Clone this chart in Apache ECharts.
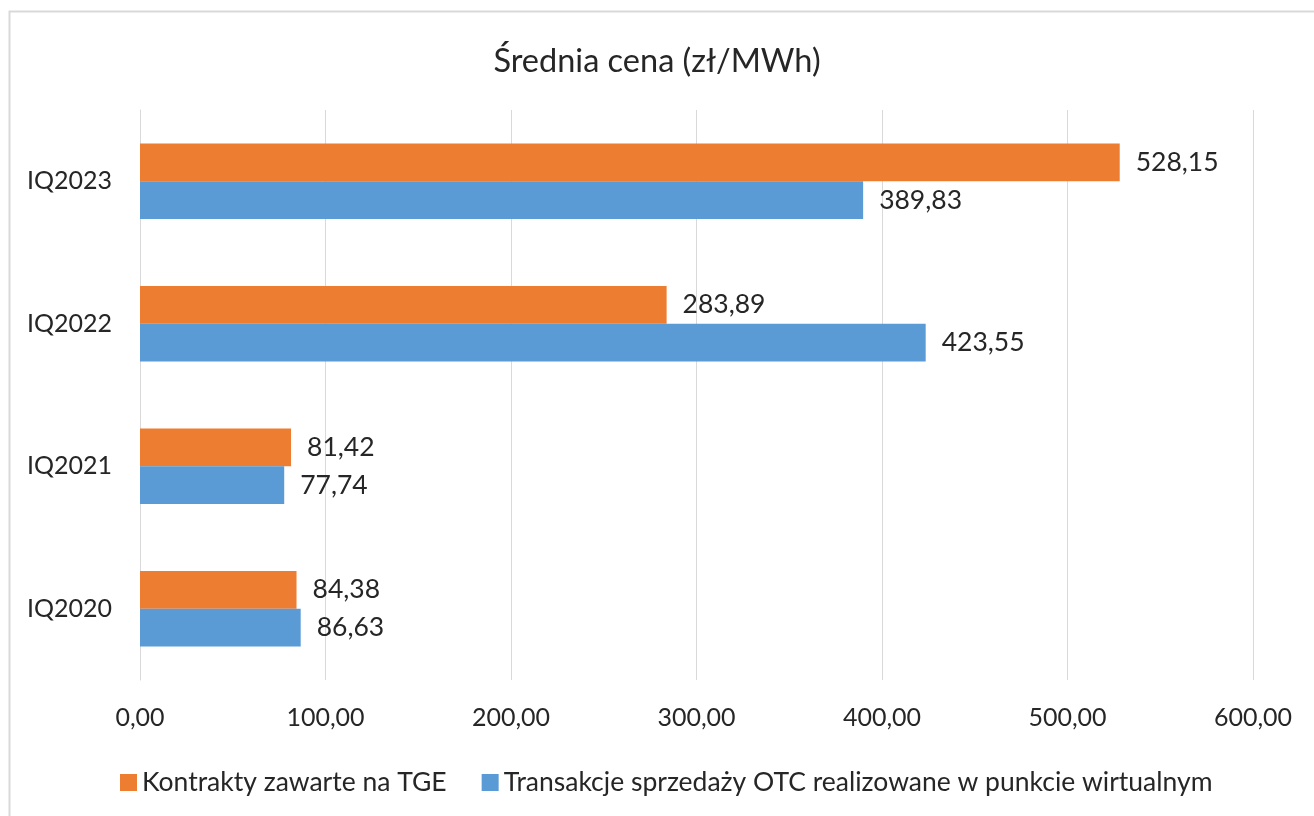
<!DOCTYPE html>
<html>
<head>
<meta charset="utf-8">
<script src="https://cdn.jsdelivr.net/npm/echarts@6/dist/echarts.min.js"></script>
<style>html,body{margin:0;padding:0;background:#fff}#c{width:1314px;height:816px}</style>
</head>
<body>
<div id="c"></div>
<script>
var categories = ['IQ2020', 'IQ2021', 'IQ2022', 'IQ2023'];
var tgeValues = [84.38, 81.42, 283.89, 528.15];
var otcValues = [86.63, 77.74, 423.55, 389.83];
var seriesNames = ['Kontrakty zawarte na TGE', 'Transakcje sprzedaży OTC realizowane w punkcie wirtualnym'];
var titleText = 'Średnia cena (zł/MWh)';

var FONT = 'Lato, "Open Sans", sans-serif';
var TXT = '#262626';
function fmt(v) { return Number(v).toFixed(2).replace('.', ','); }

var chart = echarts.init(document.getElementById('c'));
chart.setOption({
  backgroundColor: '#ffffff',
  animation: false,
  graphic: [{
    type: 'rect', left: 7, top: 9, silent: true,
    shape: { width: 1330, height: 830 },
    style: { fill: 'none', stroke: '#d9d9d9', lineWidth: 2 }
  }],
  title: {
    text: titleText, left: 'center', top: 40,
    textStyle: { fontFamily: FONT, fontSize: 32.5, fontWeight: 'normal', color: TXT }
  },
  legend: {
    data: seriesNames, left: 115, top: 764,
    itemWidth: 17, itemHeight: 17, itemGap: 35, icon: 'rect',
    textStyle: { fontFamily: FONT, fontSize: 26.5, color: TXT }
  },
  grid: { left: 140, right: 61, top: 110, bottom: 136, containLabel: false },
  xAxis: {
    type: 'value', min: 0, max: 600, interval: 100,
    axisLine: { show: false }, axisTick: { show: false },
    splitLine: { lineStyle: { color: '#d9d9d9', width: 1 } },
    axisLabel: { formatter: fmt, fontFamily: FONT, fontSize: 25, color: TXT, margin: 25 }
  },
  yAxis: {
    type: 'category', data: categories,
    axisLine: { show: true, lineStyle: { color: '#d9d9d9' } }, axisTick: { show: false },
    axisLabel: { fontFamily: FONT, fontSize: 25, color: TXT, margin: 28 }
  },
  series: [
    {
      name: seriesNames[0], type: 'bar', data: tgeValues,
      barCategoryGap: '47%', barGap: '0%',
      itemStyle: { color: '#ed7d31' },
      label: { show: true, position: 'right', distance: 16, formatter: function (p) { return fmt(p.value); },
        fontFamily: FONT, fontSize: 26.5, color: TXT }
    },
    {
      name: seriesNames[1], type: 'bar', data: otcValues,
      barCategoryGap: '47%', barGap: '0%',
      itemStyle: { color: '#5b9bd5' },
      label: { show: true, position: 'right', distance: 16, formatter: function (p) { return fmt(p.value); },
        fontFamily: FONT, fontSize: 26.5, color: TXT }
    }
  ]
});
</script>
</body>
</html>
